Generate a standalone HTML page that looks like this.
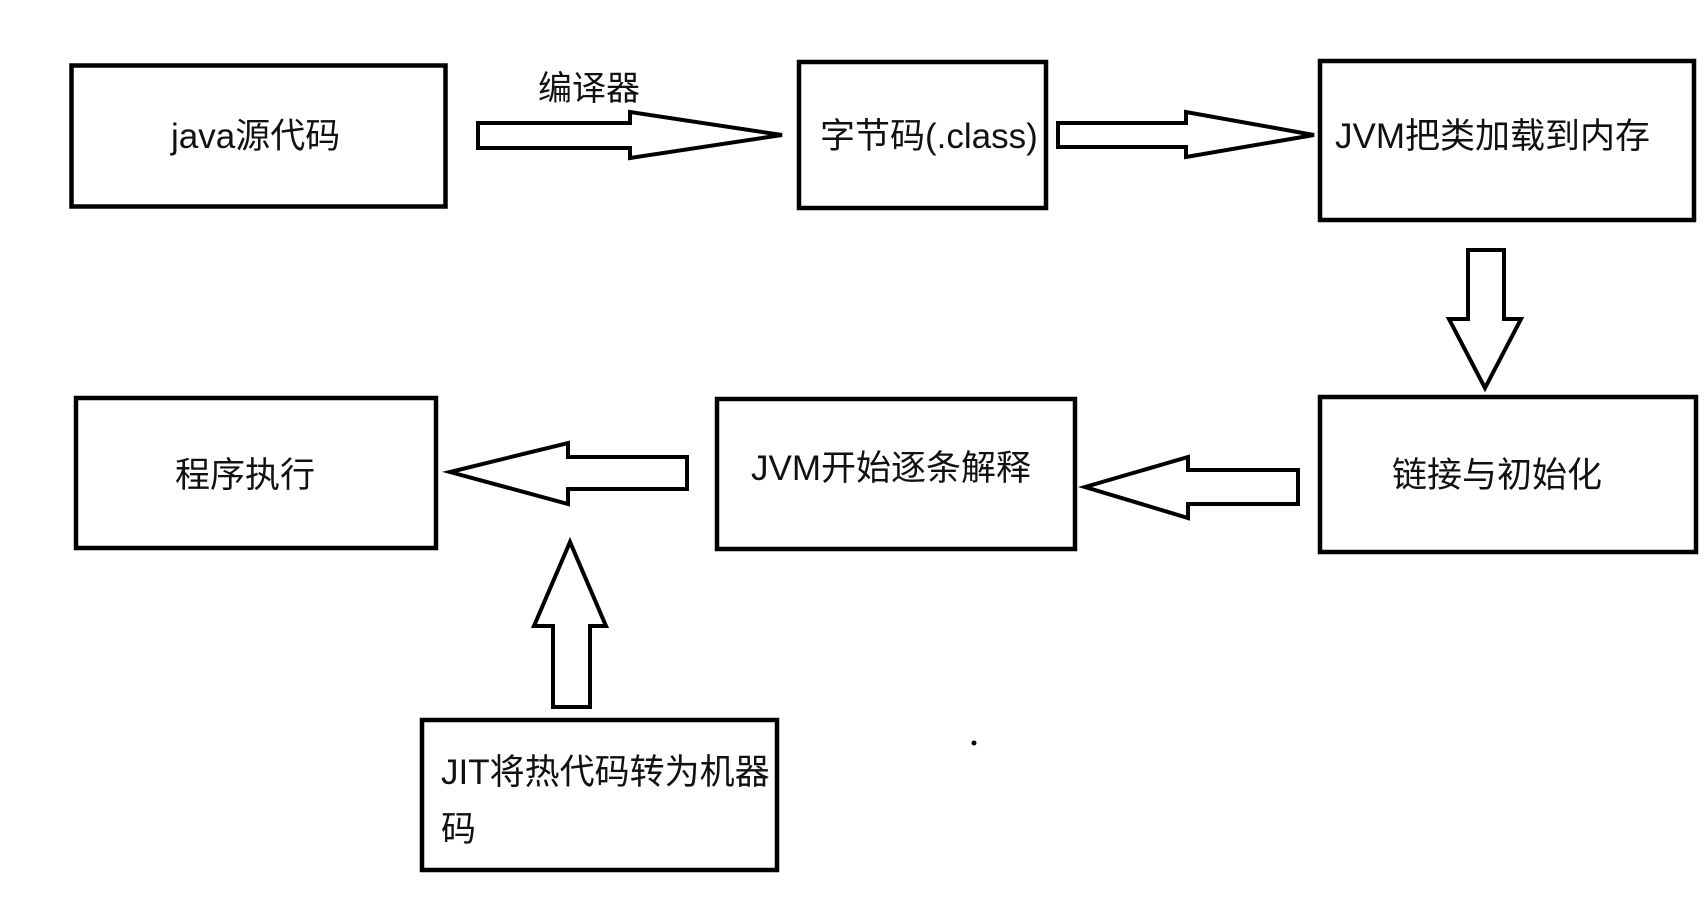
<!DOCTYPE html>
<html><head><meta charset="utf-8"><style>
html,body{margin:0;padding:0;background:#fff;}
svg{display:block;}
text{font-family:"Liberation Sans","Noto Sans CJK SC",sans-serif;font-size:35px;fill:#111;}
</style></head><body>
<svg width="1706" height="912" viewBox="0 0 1706 912" xmlns="http://www.w3.org/2000/svg">
<g fill="none" stroke="#000" stroke-width="4.5" stroke-linejoin="miter">
<rect x="71.5" y="65.5" width="374" height="141"/>
<rect x="799" y="62" width="247" height="146"/>
<rect x="1320" y="61" width="374" height="159"/>
<rect x="1320" y="397" width="376" height="155"/>
<rect x="717" y="399" width="358" height="150"/>
<rect x="76" y="398" width="360" height="150"/>
<rect x="422" y="720" width="355" height="150"/>
</g>
<g fill="none" stroke="#000" stroke-width="4" stroke-linejoin="miter">
<polygon points="478,123 630,123 630,112 782,135 630,158 630,148 478,148"/>
<polygon points="1058,123 1186,123 1186,112 1314,135 1186,157 1186,147 1058,147"/>
<polygon points="1468,250 1504,250 1504,319 1521,319 1485,388 1449,319 1468,319"/>
<polygon points="1298,470 1188,470 1188,457 1085,487 1188,518 1188,504 1298,504"/>
<polygon points="687,457 568,457 568,443 450,472 568,504 568,489 687,489"/>
<polygon points="553,707 590,707 590,626 606,626 570,542 534,626 553,626"/>
</g>
<circle cx="974" cy="743" r="2.5" fill="#000"/>
<text x="538" y="100" style="font-size:34px">编译器</text>
<text x="171" y="148">java源代码</text>
<text x="820" y="148">字节码(.class)</text>
<text x="1335" y="148">JVM把类加载到内存</text>
<text x="1392" y="487">链接与初始化</text>
<text x="751" y="480">JVM开始逐条解释</text>
<text x="175" y="487">程序执行</text>
<text x="441" y="784">JIT将热代码转为机器</text>
<text x="441" y="841">码</text>
</svg>
</body></html>
